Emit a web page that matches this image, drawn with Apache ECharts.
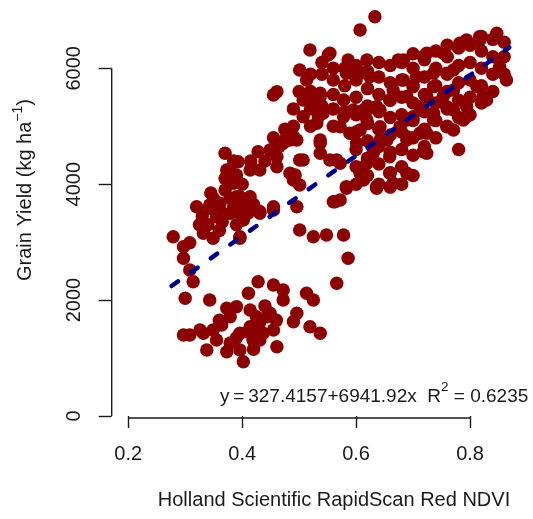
<!DOCTYPE html>
<html>
<head>
<meta charset="utf-8">
<script src="https://cdn.jsdelivr.net/npm/echarts@6/dist/echarts.min.js"></script>
<style>
html,body{margin:0;padding:0;background:#fff;}
#chart{width:533px;height:519px;}
</style>
</head>
<body>
<div id="chart"></div>
<script>
// ---- data ----
const ndvi = [
 0.300,0.343,0.411,0.428,0.455,0.472,0.472,0.513,0.525,0.566,0.586,0.578,
 0.373,0.390,0.414,0.425,0.449,0.496,0.490,
 0.308,0.332,0.349,0.364,0.396,0.425,0.455,0.519,0.537,
 0.338,0.373,0.402,0.396,0.461,0.431,0.297,
 0.355,0.379,0.414,0.437,0.419,0.443,0.326,0.379,
 0.39,0.41,0.43,0.44,0.46,0.42,0.36,
 0.279,0.297,0.297,0.308,0.314,0.308,
 0.320,0.343,0.361,0.379,0.396,0.414,0.384,0.390,0.373,0.414,0.355,0.379,0.402,0.332,0.349,0.396,0.431,0.455,0.496,0.490,0.501,0.501,0.525,0.548,0.563,0.583,0.613,
 0.370,0.393,0.428,0.379,0.431,0.390,0.343,0.361,0.396,0.431,0.396,0.455,
 0.33,0.34,0.35,0.365,0.37,0.385,0.40,0.41,0.42,0.36,0.325,0.39,0.37,0.40,0.415,0.385,0.44,0.345,
 0.472,0.490,0.461,0.461,0.507,0.493,0.537,0.537,0.554,0.560,
 0.455,0.507,0.525,0.537,0.507,0.531,0.542,
 0.465,0.475,0.455,0.49,0.49,0.50,0.52,0.52,0.52,0.52,0.54,0.54,0.54,0.56,0.56,0.56,0.56,0.58,0.58,0.58,
 0.633,0.607,0.519,0.551,0.586,0.619,0.501,0.513,0.560,0.583,0.607,0.461,0.537,0.578,0.595,0.619,0.534,0.572,0.478,0.496,0.449,0.607,0.636,0.665,0.674,
 0.554,0.683,0.724,0.601,0.624,0.683,0.706,0.736,0.771,0.794,0.817,0.847,0.864,0.829,0.794,0.753,0.724,0.689,0.659,0.642,0.613,0.537,0.578,0.589,0.619,0.642,0.677,0.700,0.736,0.771,0.794,0.484,0.537,0.566,0.601,0.630,0.654,0.689,0.724,0.759,0.724,0.780,0.501,0.484,0.583,0.636,0.607,0.659,0.689,
 0.817,0.782,0.852,0.823,0.788,0.718,0.753,0.759,0.700,0.736,0.771,0.812,0.712,0.759,0.689,0.736,0.771,0.712,
 0.642,0.689,0.718,0.619,0.659,0.613,0.636,0.665,0.572,0.572,
 0.60,0.60,0.60,0.60,0.60,0.60,0.60,0.60,
 0.62,0.62,0.62,0.62,0.62,0.62,0.62,
 0.64,0.64,0.64,0.64,0.64,0.64,0.64,0.64,
 0.66,0.66,0.66,0.66,0.66,0.66,0.66,0.66,
 0.68,0.68,0.68,0.68,0.68,0.68,0.68,0.68,
 0.70,0.70,0.70,0.70,0.70,0.70,0.70,0.70,
 0.72,0.72,0.72,0.72,0.72,0.72,
 0.74,0.74,0.74,0.74,0.74,0.74,
 0.76,0.76,0.76,0.76,0.76,0.76,
 0.78,0.78,0.78,0.78,0.78,
 0.80,0.80,0.80,0.80,0.80,
 0.82,0.82,0.82,0.82,0.82,
 0.84,0.84,0.84,0.84,
 0.86,0.86,0.86
];
const grainYield = [
 2031,2002,2118,2318,2261,2175,2002,2118,2002,2290,2722,3124,
 1859,1887,1830,1714,1773,1773,1628,
 1398,1427,1484,1571,1427,1484,1484,1541,1427,
 1139,1110,937,1139,1196,1312,1398,
 1312,1260,1541,1427,1312,1714,1484,1714,
 1350,1450,1600,1900,1650,1150,1650,
 3095,2920,2722,2520,2318,2990,
 3612,3585,3671,3757,3785,3785,4016,4160,4246,4246,3440,3499,3383,3153,3067,3067,3527,3612,3612,4073,3987,3210,3095,3124,3699,3930,4130,
 4534,4389,4562,4246,4246,3785,3642,3556,3499,3499,3095,3556,
 3450,3300,3750,3350,3900,3600,3650,3500,3650,3200,3300,3300,4100,4000,4400,4400,4400,3850,
 4707,4821,4476,4303,4419,4160,4707,4534,4419,3699,
 5540,5454,5454,5570,5166,5052,5225,
 4650,4950,4800,5000,5300,5600,5000,5300,5600,5900,5900,6100,5350,5000,5300,5550,6000,5700,6000,5250,
 6892,6662,6317,6231,6145,6145,5972,5799,5799,5915,5915,5598,5512,5454,5282,5282,5166,4993,4821,4764,4591,4936,5339,5627,6145,
 6260,6145,6260,5915,5856,5799,5856,5915,5972,6490,6547,6605,5799,5454,5339,5512,5512,5512,5454,5282,5282,5225,5166,4879,5109,4993,4993,5166,5225,5282,5166,4764,4764,4419,4707,4534,4764,4764,4879,4993,4534,4600,4419,4189,3958,3958,4189,4476,4189,
 6490,6433,6029,5512,5109,6202,6260,5915,5684,5684,5627,5684,5339,5339,5109,5109,4936,4879,
 4764,4821,4562,4362,4189,4073,3930,4016,3728,4362,
 4000,4300,4600,4900,5200,5500,5800,6050,
 4150,4450,4750,5050,5350,5650,5950,
 4000,4350,4650,4950,5250,5550,5850,6100,
 3950,4200,4550,4850,5150,5450,5750,6050,
 4000,4300,4600,4900,5200,5500,5800,6100,
 4150,4500,4800,5100,5400,5700,6000,6250,
 4650,4950,5250,5550,5850,6150,
 4800,5100,5400,5700,6000,6300,
 5000,5300,5600,5900,6200,6400,
 5150,5450,5750,6050,6350,
 5200,5500,5800,6100,6400,
 5400,5700,6000,6300,6550,
 5600,5900,6200,6500,
 5900,6200,6450
];
const xTicks = [0.2, 0.4, 0.6, 0.8];
const yTicks = [0, 2000, 4000, 6000];
const fitX = [0.276, 0.869];
const fitY = [2243, 6360];
const xTitle = 'Holland Scientific RapidScan Red NDVI';
const eqMain = 'y\u2009=\u2009327.4157+6941.92x  R';
const eqTail = ' = 0.6235';

// ---- chart ----
const X_MIN = 0.171, X_MAX = 0.9, Y_MIN = -35, Y_MAX = 7100;
const points = ndvi.map((v, i) => [v, grainYield[i]]);
const fitLine = fitX.map((v, i) => [v, fitY[i]]);
const FONT = '"Liberation Sans", Arial, Helvetica, sans-serif';
const INK = '#1a1a1a';

const chart = echarts.init(document.getElementById('chart'), null, {renderer: 'canvas'});
chart.setOption({
  animation: false,
  backgroundColor: '#fff',
  grid: {left: 111.7, right: 6, top: 4.6, bottom: 101, containLabel: false, outerBoundsMode: 'none'},
  xAxis: {
    type: 'value', min: X_MIN, max: X_MAX,
    splitLine: {show: false},
    axisLine: {show: false},
    axisTick: {show: true, customValues: xTicks, length: 12, lineStyle: {color: INK, width: 1.4}},
    axisLabel: {show: true, customValues: xTicks, margin: 26, fontSize: 20, fontFamily: FONT, color: INK,
      formatter: v => v.toFixed(1)}
  },
  yAxis: {
    type: 'value', min: Y_MIN, max: Y_MAX,
    splitLine: {show: false},
    axisLine: {show: false},
    axisTick: {show: true, customValues: yTicks, length: 13, lineStyle: {color: INK, width: 1.4}},
    axisLabel: {show: true, customValues: yTicks, rotate: 90, margin: 27, fontSize: 20, fontFamily: FONT, color: INK,
      formatter: v => String(Math.round(v))}
  },
  series: [
    {
      type: 'scatter', data: points, symbol: 'circle', symbolSize: 13.5,
      itemStyle: {color: '#8B0000', opacity: 1}, z: 2, silent: true
    },
    {
      type: 'line', data: fitLine, symbol: 'none', z: 3, silent: true,
      lineStyle: {color: '#00008B', width: 4.5, type: [8, 16], cap: 'round'}
    },
    {
      type: 'line', data: [[xTicks[0], Y_MIN], [xTicks[xTicks.length - 1], Y_MIN]], symbol: 'none', clip: false, silent: true,
      lineStyle: {color: INK, width: 1.4}
    },
    {
      type: 'line', data: [[X_MIN, yTicks[0]], [X_MIN, yTicks[yTicks.length - 1]]], symbol: 'none', clip: false, silent: true,
      lineStyle: {color: INK, width: 1.4}
    }
  ],
  graphic: [
    {
      type: 'text', x: 334, y: 500,
      style: {text: xTitle, fontSize: 20, fontFamily: FONT, fill: INK, align: 'center', verticalAlign: 'middle'}
    },
    {
      type: 'text', x: 23, y: 190, rotation: Math.PI / 2,
      style: {
        text: '{a|Grain Yield (kg ha}{s|\u22121}{a|)}',
        align: 'center', verticalAlign: 'middle', fill: INK, fontFamily: FONT,
        rich: {
          a: {fontSize: 20, fontFamily: FONT, fill: INK, verticalAlign: 'bottom', lineHeight: 24},
          s: {fontSize: 14, fontFamily: FONT, fill: INK, verticalAlign: 'top', lineHeight: 24}
        }
      }
    },
    {
      type: 'text', x: 528.3, y: 393,
      style: {
        text: '{a|' + eqMain + '}{s|2}{a|' + eqTail + '}',
        align: 'right', verticalAlign: 'middle', fill: INK, fontFamily: FONT,
        rich: {
          a: {fontSize: 19, fontFamily: FONT, fill: INK, verticalAlign: 'bottom', lineHeight: 26},
          s: {fontSize: 13.5, fontFamily: FONT, fill: INK, verticalAlign: 'top', lineHeight: 26}
        }
      }
    }
  ]
});
</script>
</body>
</html>
